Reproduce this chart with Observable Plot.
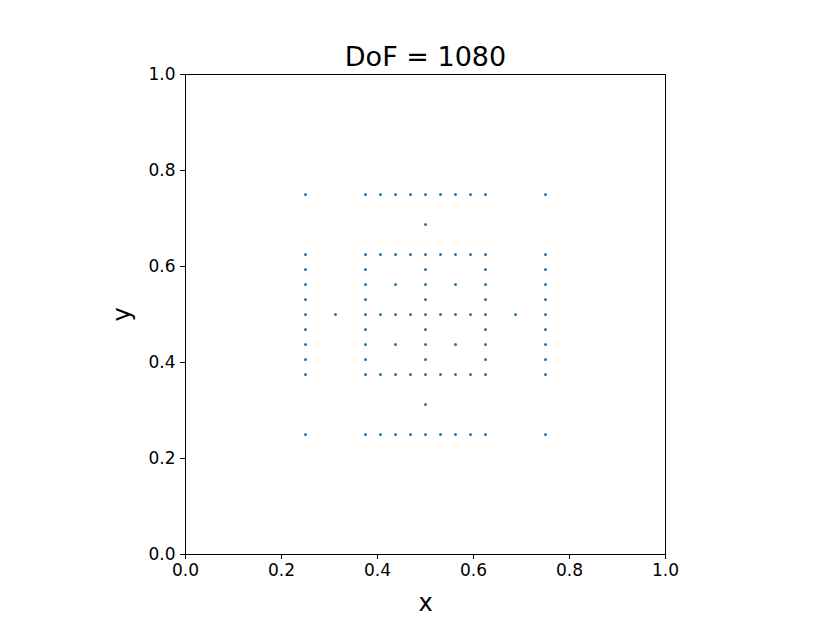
<!DOCTYPE html>
<html>
<head>
<meta charset="utf-8">
<script src="https://cdn.jsdelivr.net/npm/d3@7"></script>
<script src="https://cdn.jsdelivr.net/npm/@observablehq/plot@0.6"></script>
<style>
  html, body { margin: 0; padding: 0; background: #fff; }
  svg { font-family: "DejaVu Sans", sans-serif; }
</style>
</head>
<body>
<div id="chart"></div>
<script>
const title = "DoF = 1080";
const xLabel = "x";
const yLabel = "y";
const xTicks = [0, 0.2, 0.4, 0.6, 0.8, 1.0];
const yTicks = [0, 0.2, 0.4, 0.6, 0.8, 1.0];

// Rows of points: y value and the x values on that row
const rowY = [0.75, 0.6875, 0.625, 0.59375, 0.5625, 0.53125, 0.5, 0.46875, 0.4375, 0.40625, 0.375, 0.3125, 0.25];
const rowX = [
  [0.25, 0.375, 0.40625, 0.4375, 0.46875, 0.5, 0.53125, 0.5625, 0.59375, 0.625, 0.75],
  [0.5],
  [0.25, 0.375, 0.40625, 0.4375, 0.46875, 0.5, 0.53125, 0.5625, 0.59375, 0.625, 0.75],
  [0.25, 0.375, 0.5, 0.625, 0.75],
  [0.25, 0.375, 0.4375, 0.5, 0.5625, 0.625, 0.75],
  [0.25, 0.375, 0.5, 0.625, 0.75],
  [0.25, 0.3125, 0.375, 0.40625, 0.4375, 0.46875, 0.5, 0.53125, 0.5625, 0.59375, 0.625, 0.6875, 0.75],
  [0.25, 0.375, 0.5, 0.625, 0.75],
  [0.25, 0.375, 0.4375, 0.5, 0.5625, 0.625, 0.75],
  [0.25, 0.375, 0.5, 0.625, 0.75],
  [0.25, 0.375, 0.40625, 0.4375, 0.46875, 0.5, 0.53125, 0.5625, 0.59375, 0.625, 0.75],
  [0.5],
  [0.25, 0.375, 0.40625, 0.4375, 0.46875, 0.5, 0.53125, 0.5625, 0.59375, 0.625, 0.75]
];

const points = rowY.flatMap((y, i) => rowX[i].map(x => ({x, y})));

const chart = Plot.plot({
  width: 830,
  height: 623,
  marginLeft: 185,
  marginRight: 165,
  marginTop: 74,
  marginBottom: 69,
  style: {fontFamily: "DejaVu Sans, sans-serif", background: "#fff", color: "#000"},
  x: {domain: [0, 1], ticks: xTicks, tickFormat: d3.format(".1f"), label: null},
  y: {domain: [0, 1], ticks: yTicks, tickFormat: d3.format(".1f"), label: null},
  marks: [
    Plot.axisX({ticks: xTicks, tickFormat: d3.format(".1f"), tickSize: 5, tickPadding: 4, fontSize: 17, stroke: "#000", fill: "#000", label: null}),
    Plot.axisY({ticks: yTicks, tickFormat: d3.format(".1f"), tickSize: 5, tickPadding: 5, fontSize: 17, stroke: "#000", fill: "#000", label: null}),
    Plot.frame({stroke: "#000", strokeWidth: 1}),
    Plot.dot(points, {x: "x", y: "y", r: 1.5, fill: "#1f77b4", stroke: null}),
    Plot.text([title], {frameAnchor: "top", dy: -28, fontSize: 27, fill: "#000"}),
    Plot.text([xLabel], {frameAnchor: "bottom", dy: 56, fontSize: 24, fill: "#000"}),
    Plot.text([yLabel], {frameAnchor: "left", dx: -63, dy: 7, rotate: -90, fontSize: 24, fill: "#000"})
  ]
});
document.getElementById("chart").appendChild(chart);
</script>
</body>
</html>
